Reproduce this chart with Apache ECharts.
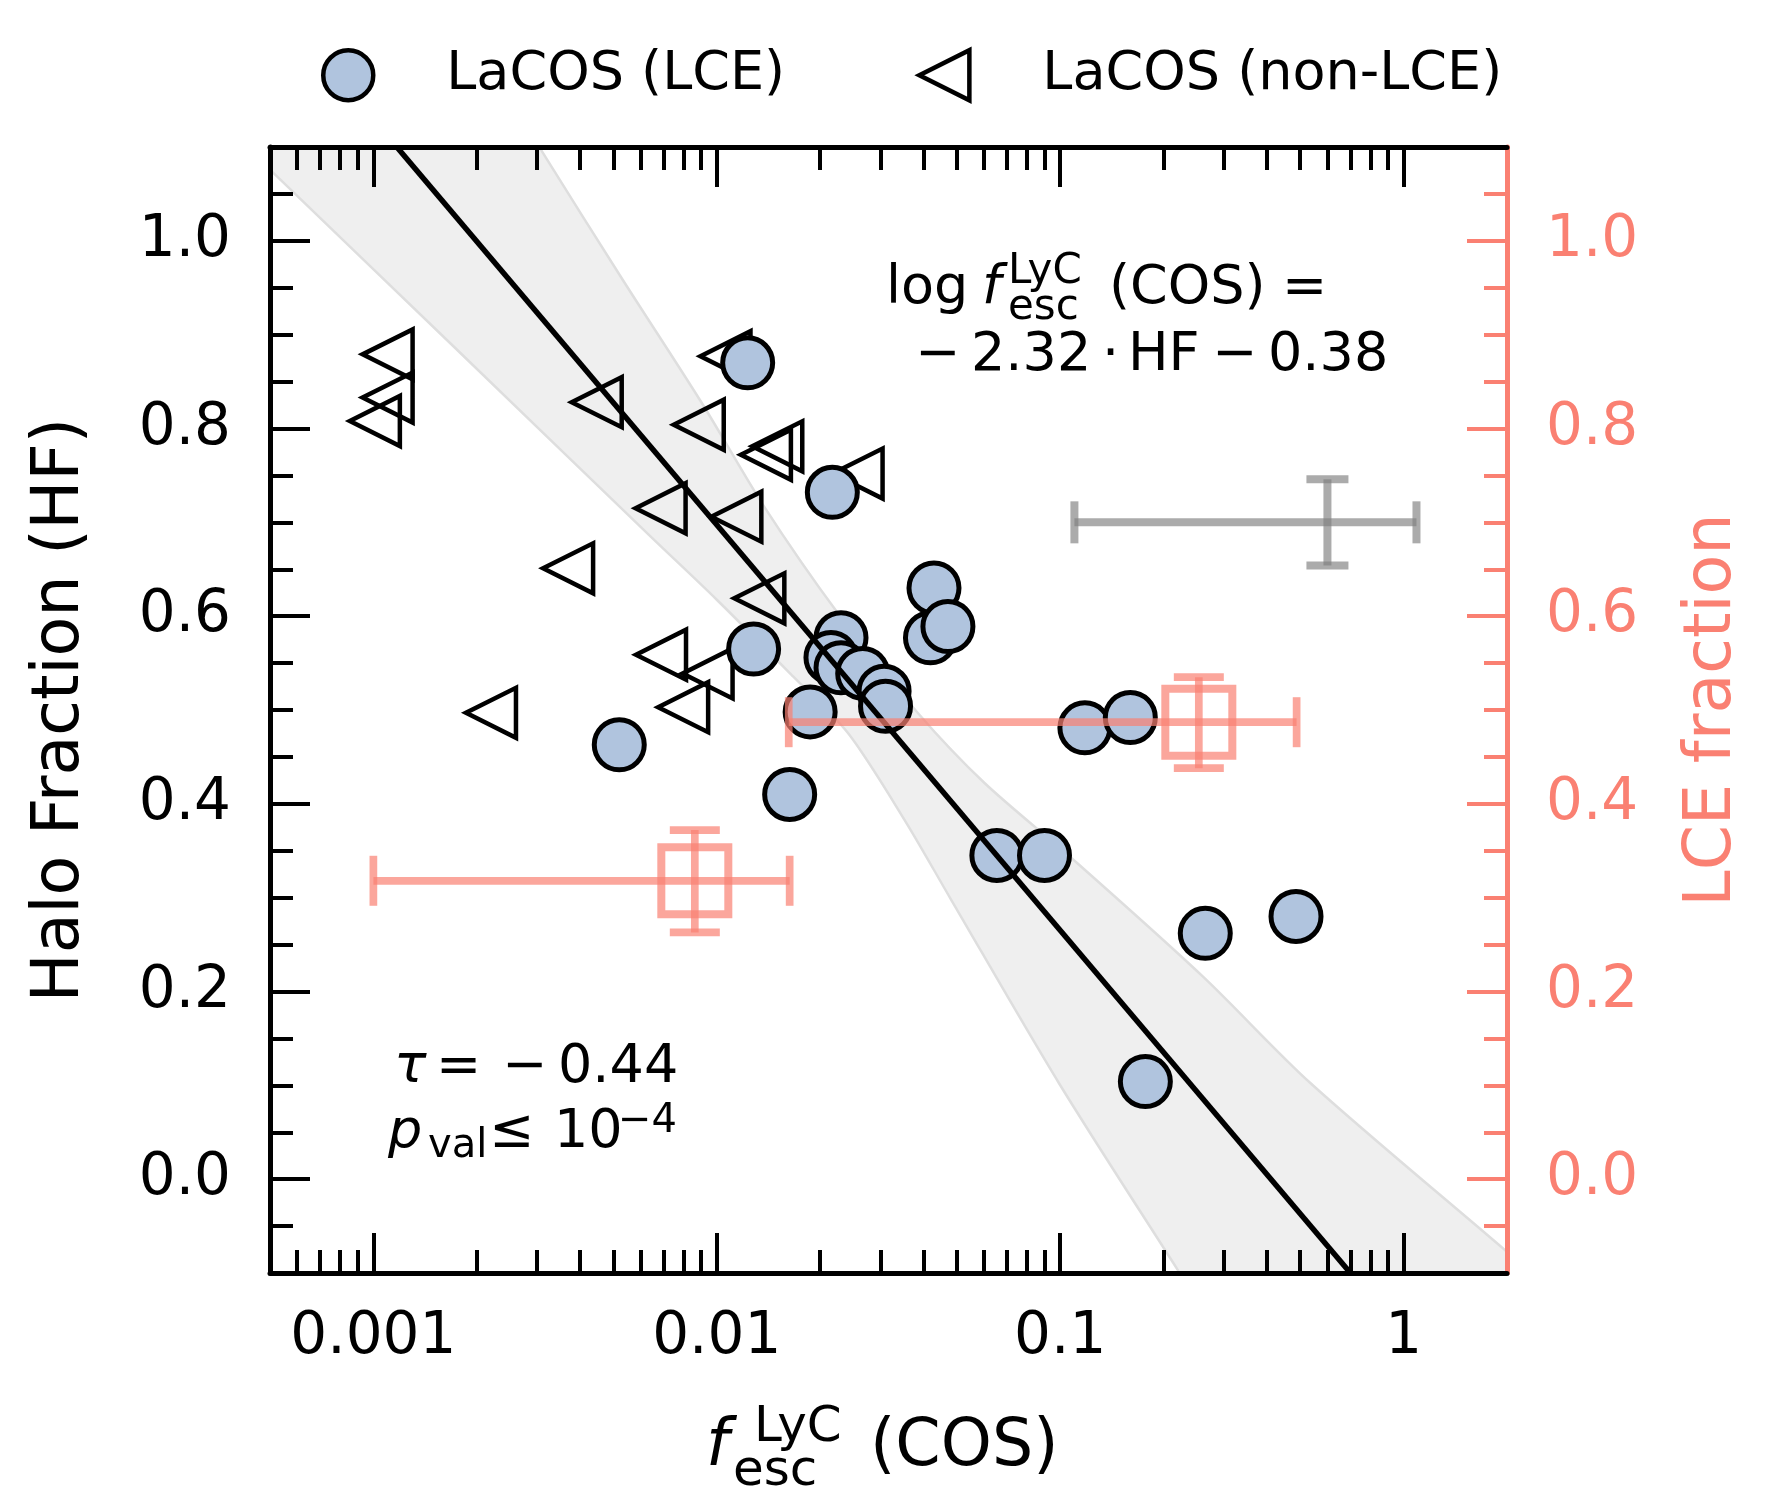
<!DOCTYPE html>
<html>
<head>
<meta charset="utf-8">
<title>Halo fraction vs LyC escape fraction</title>
<script src="https://cdn.jsdelivr.net/npm/echarts@6/dist/echarts.min.js"></script>
<style>
  html, body { margin: 0; padding: 0; background: #fff; }
  #chart { width: 1775px; height: 1493px; }
</style>
</head>
<body>
<div id="chart"></div>
<script>
// LaCOS LCEs (filled circles)
var lceEsc = [0.0123, 0.0217, 0.0429, 0.0419, 0.0471, 0.0128, 0.0230, 0.0215, 0.0230, 0.0266, 0.0307,
  0.0310, 0.0187, 0.0052, 0.0163, 0.118, 0.160, 0.0654, 0.090, 0.2645, 0.486, 0.177];
var lceHF = [0.870, 0.732, 0.630, 0.577, 0.589, 0.565, 0.577, 0.556, 0.545, 0.539, 0.520,
  0.504, 0.498, 0.463, 0.410, 0.481, 0.492, 0.345, 0.345, 0.262, 0.280, 0.104];

// LaCOS non-LCEs (open triangles)
var nonEsc = [0.00110, 0.00110, 0.00101, 0.00447, 0.00886, 0.0106, 0.0139, 0.0150, 0.0257,
  0.00686, 0.0114, 0.00369, 0.0133, 0.00688, 0.0094, 0.00798, 0.00220];
var nonHF = [0.879, 0.833, 0.808, 0.828, 0.804, 0.877, 0.772, 0.781, 0.752,
  0.715, 0.706, 0.651, 0.619, 0.559, 0.539, 0.503, 0.497];

// LCE fraction in two fesc bins (salmon squares, right axis)
var binEsc = [0.00863, 0.2533];
var binEscLo = [0.001, 0.0162];
var binEscHi = [0.0163, 0.488];
var binFrac = [0.318, 0.487];
var binFracLo = [0.263, 0.438];
var binFracHi = [0.372, 0.535];

// typical uncertainty (grey cross)
var errEsc = [0.60];
var errEscLo = [0.11];
var errEscHi = [1.09];
var errHF = [0.700];
var errHFLo = [0.654];
var errHFHi = [0.746];

// fit: log fesc = -2.32 HF - 0.38, and its confidence band edges [fesc, HF]
var fitLine = [[0.00117, 1.1], [0.70, -0.1]];
var bandRight = [[0.00305, 1.1], [0.00310, 1.095], [0.00532, 0.9585], [0.00911, 0.8253], [0.01372, 0.717],
  [0.0225, 0.6034], [0.0385, 0.4968], [0.0602, 0.4222], [0.1092, 0.3405],
  [0.260, 0.2161], [0.535, 0.1025], [1.966, -0.0751], [2.35, -0.1]];
var bandLeft = [[0.000427, 1.1], [0.000506, 1.074], [0.00174, 0.885], [0.00641, 0.685], [0.0100, 0.6175],
  [0.01665, 0.536], [0.0241, 0.4755], [0.0352, 0.383], [0.0481, 0.298], [0.0991, 0.1025],
  [0.2196, -0.0964], [0.2228, -0.1]];

// ticks
var xMajorTicks = [0.001, 0.01, 0.1, 1];
var xTickLabels = ['0.001', '0.01', '0.1', '1'];
var xMinorTicks = [0.0006, 0.0007, 0.0008, 0.0009,
  0.002, 0.003, 0.004, 0.005, 0.006, 0.007, 0.008, 0.009,
  0.02, 0.03, 0.04, 0.05, 0.06, 0.07, 0.08, 0.09,
  0.2, 0.3, 0.4, 0.5, 0.6, 0.7, 0.8, 0.9];
var yMajorTicks = [0, 0.2, 0.4, 0.6, 0.8, 1.0];
var yMinorTicks = [-0.05, 0.05, 0.1, 0.15, 0.25, 0.3, 0.35, 0.45, 0.5, 0.55,
  0.65, 0.7, 0.75, 0.85, 0.9, 0.95, 1.05];

var FONT = 'DejaVu Sans';
var SALMON = '#fa8072';

function xAxisDef(pos, ticks, len, withLine, withLabels) {
  return {
    type: 'log', logBase: 10, min: 0.0005, max: 2, position: pos, z: 10,
    axisLine: { show: withLine, onZero: false, lineStyle: { color: '#000', width: 5 } },
    axisTick: { show: true, inside: true, length: len, customValues: ticks,
      lineStyle: { color: '#000', width: 4 } },
    axisLabel: withLabels ? {
      show: true, customValues: xMajorTicks, margin: 36,
      fontFamily: FONT, fontSize: 58, color: '#000',
      formatter: function (v) {
        for (var i = 0; i < xMajorTicks.length; i++) {
          if (Math.abs(Math.log10(v / xMajorTicks[i])) < 1e-6) return xTickLabels[i];
        }
        return '';
      }
    } : { show: false },
    splitLine: { show: false }
  };
}

function yAxisDef(pos, ticks, len, color, withLine, withLabels) {
  return {
    type: 'value', min: -0.1, max: 1.1, position: pos, z: 10,
    axisLine: { show: withLine, onZero: false, lineStyle: { color: color, width: 5 } },
    axisTick: { show: true, inside: true, length: len, customValues: ticks,
      lineStyle: { color: color, width: 4 } },
    axisLabel: withLabels ? {
      show: true, customValues: yMajorTicks, margin: 39,
      fontFamily: FONT, fontSize: 58, color: color,
      formatter: function (v) { return v.toFixed(1); }
    } : { show: false },
    splitLine: { show: false }
  };
}

var yLeft = yAxisDef('left', yMajorTicks, 40, '#000', true, true);
yLeft.name = 'Halo Fraction (HF)';
yLeft.nameLocation = 'middle';
yLeft.nameRotate = 90;
yLeft.nameGap = 176;
yLeft.nameTextStyle = { fontFamily: FONT, fontSize: 65, color: '#000' };

var yRight = yAxisDef('right', yMajorTicks, 40, SALMON, true, true);
yRight.name = 'LCE fraction';
yRight.nameLocation = 'middle';
yRight.nameRotate = 90;
yRight.nameGap = 174;
yRight.nameTextStyle = { fontFamily: FONT, fontSize: 65, color: SALMON };

function errorCross(color, lw, cap, box) {
  return function (params, api) {
    var c = api.coord([api.value(0), api.value(1)]);
    var xl = api.coord([api.value(2), api.value(1)]);
    var xr = api.coord([api.value(3), api.value(1)]);
    var yb = api.coord([api.value(0), api.value(4)]);
    var yt = api.coord([api.value(0), api.value(5)]);
    var st = { stroke: color, lineWidth: lw, fill: null };
    function seg(x1, y1, x2, y2) {
      return { type: 'line', shape: { x1: x1, y1: y1, x2: x2, y2: y2 }, style: st };
    }
    var kids = [
      seg(xl[0], c[1], xr[0], c[1]),
      seg(c[0], yt[1], c[0], yb[1]),
      seg(xl[0], c[1] - cap, xl[0], c[1] + cap),
      seg(xr[0], c[1] - cap, xr[0], c[1] + cap),
      seg(c[0] - cap, yt[1], c[0] + cap, yt[1]),
      seg(c[0] - cap, yb[1], c[0] + cap, yb[1])
    ];
    if (box) {
      kids.push({ type: 'rect', shape: { x: c[0] - box / 2, y: c[1] - box / 2, width: box, height: box },
        style: { stroke: color, lineWidth: 8, fill: null } });
    }
    return { type: 'group', children: kids };
  };
}

function txt(str, x, base, size, italic, color) {
  return {
    type: 'text', x: x, y: base - 0.35 * size, z: 20,
    style: { text: str, fontFamily: FONT, fontSize: size, fontStyle: italic ? 'italic' : 'normal',
      fill: color || '#000', align: 'left', verticalAlign: 'middle' }
  };
}

var lceData = lceEsc.map(function (v, i) { return [v, lceHF[i]]; });
var nonData = nonEsc.map(function (v, i) { return [v, nonHF[i]]; });
var binData = binEsc.map(function (v, i) {
  return [v, binFrac[i], binEscLo[i], binEscHi[i], binFracLo[i], binFracHi[i]];
});
var errData = errEsc.map(function (v, i) {
  return [v, errHF[i], errEscLo[i], errEscHi[i], errHFLo[i], errHFHi[i]];
});

var chart = echarts.init(document.getElementById('chart'));
chart.setOption({
  animation: false,
  backgroundColor: '#fff',
  grid: { left: 270, right: 268, top: 147, bottom: 220 },
  legend: {
    left: 321, top: 48, padding: 0, itemWidth: 50, itemHeight: 50, itemGap: 132,
    data: [
      { name: 'LaCOS (LCE)' },
      { name: 'LaCOS (non-LCE)', icon: 'path://M10,0 L10,10 L0,5 Z' }
    ],
    textStyle: { fontFamily: FONT, fontSize: 54, color: '#000', padding: [0, 0, 0, 68] },
    itemStyle: { borderWidth: 4.5 }
  },
  xAxis: [
    xAxisDef('bottom', xMajorTicks, 40, true, true),
    xAxisDef('bottom', xMinorTicks, 23, false, false),
    xAxisDef('top', xMajorTicks, 40, true, false),
    xAxisDef('top', xMinorTicks, 23, false, false)
  ],
  yAxis: [
    yLeft,
    yAxisDef('left', yMinorTicks, 23, '#000', false, false),
    yRight,
    yAxisDef('right', yMinorTicks, 23, SALMON, false, false)
  ],
  series: [
    {
      name: 'band', type: 'custom', xAxisIndex: 0, yAxisIndex: 0, z: 1, clip: true, silent: true,
      data: bandRight.concat(bandLeft),
      renderItem: function (params, api) {
        if (params.dataIndex !== 0) return null;
        var right = bandRight.map(function (p) { return api.coord(p); });
        var left = bandLeft.map(function (p) { return api.coord(p); });
        return { type: 'group', children: [
          { type: 'polygon', shape: { points: right.concat(left.slice().reverse()) },
            style: { fill: '#efefef' } },
          { type: 'polyline', shape: { points: right, smooth: 0.3 }, style: { fill: null, stroke: '#dedede', lineWidth: 2.5 } },
          { type: 'polyline', shape: { points: left, smooth: 0.3 }, style: { fill: null, stroke: '#dedede', lineWidth: 2.5 } }
        ] };
      }
    },
    {
      name: 'LaCOS (non-LCE)', type: 'scatter', xAxisIndex: 0, yAxisIndex: 0, z: 3,
      symbol: 'triangle', symbolRotate: 90, symbolSize: 50,
      itemStyle: { color: 'rgba(255,255,255,0)', borderColor: '#000', borderWidth: 4.5, opacity: 1 },
      data: nonData
    },
    {
      name: 'LaCOS (LCE)', type: 'scatter', xAxisIndex: 0, yAxisIndex: 0, z: 4,
      symbol: 'circle', symbolSize: 50,
      itemStyle: { color: '#b0c4de', borderColor: '#000', borderWidth: 5, opacity: 1 },
      data: lceData
    },
    {
      name: 'fit', type: 'line', xAxisIndex: 0, yAxisIndex: 0, z: 5, clip: true,
      showSymbol: false, silent: true,
      lineStyle: { color: '#000', width: 5.5 },
      data: fitLine
    },
    {
      name: 'LCE fraction bins', type: 'custom', xAxisIndex: 0, yAxisIndex: 2, z: 6, silent: true,
      renderItem: errorCross('rgba(250,128,114,0.7)', 7.7, 25, 67),
      data: binData
    },
    {
      name: 'typical error', type: 'custom', xAxisIndex: 0, yAxisIndex: 0, z: 6, silent: true,
      renderItem: errorCross('rgba(128,128,128,0.66)', 8, 21, 0),
      data: errData
    }
  ],
  graphic: { elements: [
    // fit equation
    txt('log', 886, 308, 54), txt('f', 982, 308, 54, true),
    txt('LyC', 1008, 287, 42), txt('esc', 1008, 323, 42),
    txt('(COS)', 1109, 308, 54), txt('=', 1282, 308, 54),
    txt('\u2212', 915, 375, 54), txt('2.32', 971, 375, 54), txt('\u00b7', 1102, 375, 54),
    txt('HF', 1128, 375, 54), txt('\u2212', 1212, 375, 54), txt('0.38', 1268, 375, 54),
    // Kendall tau
    txt('\u03c4', 394, 1087, 54, true), txt('=', 436, 1087, 54), txt('\u2212', 502, 1087, 54),
    txt('0.44', 558, 1087, 54),
    txt('p', 388, 1152, 54, true), txt('val', 428, 1161, 40), txt('\u2264', 489, 1152, 54),
    txt('10', 554, 1152, 54), txt('\u22124', 618, 1136, 40),
    // x axis title
    txt('f', 706, 1471, 65, true), txt('LyC', 754, 1446, 50), txt('esc', 733, 1490, 50),
    txt('(COS)', 870, 1471, 65)
  ] }
});
</script>
</body>
</html>
